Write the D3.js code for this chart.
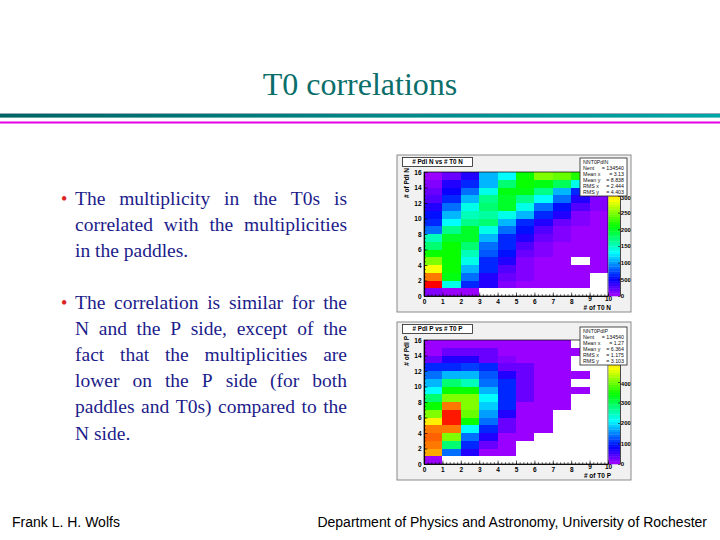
<!DOCTYPE html>
<html>
<head>
<meta charset="utf-8">
<script src="https://cdn.jsdelivr.net/npm/d3@7/dist/d3.min.js"></script>
<style>
  body { margin: 0; background: #fff; }
  svg { display: block; }
</style>
</head>
<body>
<div id="slide"></div>
<script>
// bins of the two histograms
var t0Bins = [0, 1, 2, 3, 4, 5, 6, 7, 8, 9];
var pdlBins = [0, 1, 2, 3, 4, 5, 6, 7, 8, 9, 10, 11, 12, 13, 14, 15];

// counts, rows from # of Pdl = 15 (top) down to 0, columns # of T0 = 0..9
var countsN = [
  [70, 200, 400, 1060, 1330, 2125, 2520, 2450, 2200, 80],
  [80, 420, 600, 1100, 1750, 2100, 2050, 1800, 1350, 90],
  [220, 450, 860, 1350, 2050, 2050, 1700, 1100, 600, 100],
  [250, 600, 1050, 1650, 2000, 1700, 1300, 850, 400, 100],
  [400, 850, 1350, 1750, 1950, 1350, 850, 550, 250, 80],
  [550, 1100, 1550, 1600, 1400, 1050, 600, 380, 120, 70],
  [600, 1300, 1700, 1750, 1100, 650, 400, 150, 90, 60],
  [850, 1700, 1950, 1400, 850, 550, 250, 120, 70, 50],
  [1500, 2000, 2000, 1100, 650, 400, 150, 90, 60, 40],
  [1750, 2100, 1750, 850, 600, 280, 120, 70, 50, 30],
  [2100, 2150, 1550, 800, 550, 180, 90, 60, 40, 25],
  [2500, 2150, 1350, 600, 400, 130, 70, 40, 0, 20],
  [2900, 2100, 1050, 600, 280, 100, 60, 40, 25, 15],
  [3300, 2050, 850, 420, 150, 80, 50, 30, 20, 0],
  [3650, 1350, 600, 380, 120, 70, 40, 25, 15, 0],
  [80, 60, 40, 0, 0, 0, 0, 0, 0, 0]
];
var countsP = [
  [110, 110, 120, 110, 100, 90, 80, 70, 0, 0],
  [120, 320, 330, 300, 120, 100, 80, 60, 50, 0],
  [320, 650, 650, 330, 130, 100, 80, 60, 0, 0],
  [970, 970, 1100, 970, 340, 300, 90, 70, 0, 0],
  [1400, 1730, 1750, 1300, 650, 320, 100, 70, 50, 0],
  [1730, 2810, 2480, 1400, 970, 330, 110, 80, 0, 0],
  [2160, 3460, 3460, 1730, 970, 330, 110, 80, 50, 0],
  [2810, 4100, 4100, 2160, 970, 300, 110, 70, 0, 0],
  [3460, 5400, 4100, 1900, 970, 120, 100, 60, 0, 0],
  [4100, 5880, 3890, 1600, 650, 110, 90, 0, 0, 0],
  [4750, 5880, 3460, 1400, 320, 110, 80, 0, 0, 0],
  [5400, 5400, 2160, 970, 320, 100, 60, 0, 0, 0],
  [5500, 4100, 1400, 650, 110, 90, 0, 0, 0, 0],
  [5400, 2900, 970, 320, 100, 0, 0, 0, 0, 0],
  [5100, 1400, 650, 120, 90, 0, 0, 0, 0, 0],
  [110, 0, 0, 0, 0, 0, 0, 0, 0, 0]
];

var zMaxN = 3720;
var zMaxP = 6050;
// labels of the palette axes that are not hidden under the stats boxes
var zTicksN = [0, 500, 1000, 1500, 2000, 2500, 3000];
var zTicksP = [0, 1000, 2000, 3000, 4000];
var xTicks = [0, 1, 2, 3, 4, 5, 6, 7, 8, 9, 10];
var yTicks = [0, 2, 4, 6, 8, 10, 12, 14, 16];

var statsN = [["Nent", "134540"], ["Mean x", "3.13"], ["Mean y", "8.838"], ["RMS x", "2.444"], ["RMS y", "4.403"]];
var statsP = [["Nent", "134540"], ["Mean x", "1.27"], ["Mean y", "6.364"], ["RMS x", "1.175"], ["RMS y", "3.103"]];

var para1 = ["The multiplicity in the T0s is", "correlated with the multiplicities", "in the paddles."];
var para2 = ["The correlation is similar for the", "N and the P side, except of the",
  "fact that the multiplicities are", "lower on the P side (for both",
  "paddles and T0s) compared to the", "N side."];

var svg = d3.select("#slide").append("svg")
    .attr("width", 720)
    .attr("height", 540);

var defs = svg.append("defs");
svg.append("rect").attr("width", 720).attr("height", 540).attr("fill", "#fff");

// title + rules
svg.append("text")
    .attr("x", 360).attr("y", 95)
    .attr("text-anchor", "middle")
    .style("font-family", "'Liberation Serif', 'Times New Roman', serif")
    .style("font-size", "32px")
    .attr("fill", "#0a6e6a")
    .text("T0 correlations");

var grad = defs.append("linearGradient").attr("id", "teal");
grad.append("stop").attr("offset", "0%").attr("stop-color", "#006464");
grad.append("stop").attr("offset", "100%").attr("stop-color", "#00a6a6");
svg.append("rect").attr("x", 0).attr("y", 113).attr("width", 720).attr("height", 1).attr("fill", "#9ab");
svg.append("rect").attr("x", 0).attr("y", 114).attr("width", 720).attr("height", 3.6).attr("fill", "url(#teal)");
svg.append("rect").attr("x", 0).attr("y", 121.5).attr("width", 720).attr("height", 2).attr("fill", "#e600e6");

// bullet text, justified by spreading the word gaps
function drawPara(lines, y0) {
  var left = 75, right = 347, step = 26.1;
  svg.append("text")
      .attr("x", 61).attr("y", y0)
      .attr("fill", "#e02020")
      .style("font-family", "'Liberation Serif', serif")
      .style("font-size", "18px")
      .text("\u2022");
  lines.forEach(function(line, i) {
    var y = y0 + i * step;
    var words = line.split(" ");
    var g = svg.append("g");
    var nodes = words.map(function(w) {
      return g.append("text")
          .attr("y", y)
          .attr("fill", "#1c1c8a")
          .style("font-family", "'Liberation Serif', 'Times New Roman', serif")
          .style("font-size", "19.5px")
          .text(w);
    });
    var widths = nodes.map(function(n) { return n.node().getComputedTextLength(); });
    var total = d3.sum(widths);
    var last = i == lines.length - 1;
    var gap = last ? 19.5 * 0.25 : (right - left - total) / (words.length - 1);
    var xx = left;
    nodes.forEach(function(n, k) {
      n.attr("x", xx);
      xx += widths[k] + gap;
    });
  });
}
drawPara(para1, 205);
drawPara(para2, 309);

// footer
svg.append("text").attr("x", 12).attr("y", 527)
    .style("font-family", "'Liberation Sans', Arial, sans-serif").style("font-size", "14px")
    .text("Frank L. H. Wolfs");
svg.append("text").attr("x", 707).attr("y", 527).attr("text-anchor", "end")
    .style("font-family", "'Liberation Sans', Arial, sans-serif").style("font-size", "14px")
    .text("Department of Physics and Astronomy, University of Rochester");

// ROOT style 2D histogram pad
function drawHist(cfg) {
  var pad = svg.append("g");
  var clipId = "clip" + cfg.id;
  defs.append("clipPath").attr("id", clipId)
    .append("rect").attr("x", cfg.px).attr("y", cfg.py).attr("width", cfg.pw).attr("height", cfg.ph);
  pad.attr("clip-path", "url(#" + clipId + ")");

  pad.append("rect")
      .attr("x", cfg.px).attr("y", cfg.py).attr("width", cfg.pw).attr("height", cfg.ph)
      .attr("fill", "#f1f1f1");

  var fx = 424, fw = 184, fy = cfg.fy, fh = 124;
  var x = d3.scaleLinear().domain([0, 10]).range([fx, fx + fw]);
  var y = d3.scaleLinear().domain([0, 16]).range([fy + fh, fy]);
  var z = d3.scaleLinear().domain([0, cfg.zMax]).range([fy + fh, fy]);

  function colour(v) {
    var lvl = Math.min(Math.floor(v / cfg.zMax * 50), 49);
    return d3.hsl(276 - lvl * 276 / 49, 1, 0.5).toString();
  }

  pad.append("rect").attr("x", fx).attr("y", fy).attr("width", fw).attr("height", fh).attr("fill", "#fff");

  var cells = [];
  cfg.counts.forEach(function(row, r) {
    row.forEach(function(v, c) {
      if (v > 0) cells.push({ t0: t0Bins[c], pdl: pdlBins[pdlBins.length - 1 - r], v: v });
    });
  });

  pad.selectAll("rect.cell")
    .data(cells)
    .enter()
    .append("rect")
      .attr("class", "cell")
      .attr("x", function(d) { return x(d.t0); })
      .attr("y", function(d) { return y(d.pdl + 1); })
      .attr("width", function(d) { return x(d.t0 + 1) - x(d.t0); })
      .attr("height", function(d) { return y(d.pdl) - y(d.pdl + 1); })
      .attr("fill", function(d) { return colour(d.v); })
      .attr("shape-rendering", "crispEdges");

  pad.append("rect").attr("x", fx).attr("y", fy).attr("width", fw).attr("height", fh)
      .attr("fill", "none").attr("stroke", "#000").attr("stroke-width", 0.7);

  // palette
  var bands = d3.range(50);
  pad.selectAll("rect.band")
    .data(bands)
    .enter()
    .append("rect")
      .attr("class", "band")
      .attr("x", fx + fw + 0.5)
      .attr("y", function(b) { return z((b + 1) * cfg.zMax / 50); })
      .attr("width", 11.5)
      .attr("height", function(b) { return z(b * cfg.zMax / 50) - z((b + 1) * cfg.zMax / 50) + 0.3; })
      .attr("fill", function(b) { return colour((b + 0.5) * cfg.zMax / 50); });

  var axFont = function(size) {
    return function(g) {
      g.selectAll("text")
          .style("font-family", "'Liberation Sans', Arial, sans-serif")
          .style("font-size", size + "px")
          .style("font-weight", "bold")
          .attr("fill", "#000");
      g.selectAll("line").attr("stroke", "#000").attr("stroke-width", 0.6);
      g.select(".domain").attr("stroke", "#000").attr("stroke-width", 0.7);
    };
  };

  var xAxisG = pad.append("g")
      .attr("transform", "translate(0," + (fy + fh) + ")")
      .call(d3.axisBottom(x).tickValues(xTicks).tickFormat(d3.format("d")).tickSize(-3.5).tickSizeOuter(0).tickPadding(3))
      .call(axFont(6.5));
  // the last two labels sit a little higher, as on the slide
  xAxisG.selectAll(".tick").filter(function(d) { return d >= 9; }).select("text").attr("y", 0.5);
  pad.append("g")
      .attr("transform", "translate(0," + (fy + fh) + ")")
      .call(d3.axisBottom(x).ticks(50).tickFormat("").tickSize(-1.8).tickSizeOuter(0))
      .call(axFont(6.5));
  pad.append("g")
      .attr("transform", "translate(" + fx + ",0)")
      .call(d3.axisLeft(y).tickValues(yTicks).tickFormat(d3.format("d")).tickSize(-3.5).tickSizeOuter(0).tickPadding(2.5))
      .call(axFont(6.5));
  pad.append("g")
      .attr("transform", "translate(" + fx + ",0)")
      .call(d3.axisLeft(y).ticks(32).tickFormat("").tickSize(-1.8).tickSizeOuter(0))
      .call(axFont(6.5));
  var zAxisG = pad.append("g")
      .attr("transform", "translate(" + (fx + fw + 12) + ",0)")
      .call(d3.axisRight(z).tickValues(cfg.zTicks).tickFormat(d3.format("d")).tickSize(-2).tickSizeOuter(0).tickPadding(0.8))
      .call(axFont(6));
  // the top label peeks out just under the stats box
  var topZ = cfg.zTicks[cfg.zTicks.length - 1];
  zAxisG.selectAll(".tick").filter(function(d) { return d == topZ; }).select("text").attr("dy", "0.62em");

  pad.append("text")
      .attr("transform", "translate(409," + (fy - 4) + ") rotate(-90)")
      .attr("text-anchor", "end")
      .style("font-family", "'Liberation Sans', Arial, sans-serif")
      .style("font-size", "6.5px").style("font-weight", "bold")
      .text(cfg.yTitle);
  pad.append("text")
      .attr("x", fx + fw + 3).attr("y", fy + fh + 13.5)
      .attr("text-anchor", "end")
      .style("font-family", "'Liberation Sans', Arial, sans-serif")
      .style("font-size", "6.5px").style("font-weight", "bold")
      .text(cfg.xTitle);

  // title box
  pad.append("rect")
      .attr("x", cfg.px + 5.5).attr("y", cfg.py + 2.5).attr("width", 70).attr("height", 9)
      .attr("fill", "#fff").attr("stroke", "#222").attr("stroke-width", 0.8);
  pad.append("text")
      .attr("x", cfg.px + 40.5).attr("y", cfg.py + 9.3)
      .attr("text-anchor", "middle")
      .style("font-family", "'Liberation Sans', Arial, sans-serif")
      .style("font-size", "6.3px").style("font-weight", "bold")
      .text(cfg.title);

  // stats box
  var sx = 580, sy = cfg.py + cfg.sOff, sw = 47, sh = 38;
  pad.append("rect")
      .attr("x", sx).attr("y", sy).attr("width", sw).attr("height", sh)
      .attr("fill", "#fff").attr("stroke", "#222").attr("stroke-width", 0.8);
  var st = pad.append("g")
      .style("font-family", "'Liberation Sans', Arial, sans-serif")
      .style("font-size", "5.3px")
      .attr("fill", "#111");
  st.append("text").attr("x", sx + 3).attr("y", sy + 5.6).text(cfg.statName);
  cfg.stats.forEach(function(s, i) {
    var yy = sy + 5.6 + (i + 1) * 6.05;
    st.append("text").attr("x", sx + 3).attr("y", yy).text(s[0]);
    st.append("text").attr("x", sx + sw - 3).attr("y", yy).attr("text-anchor", "end").text("=  " + s[1]);
  });

  // pad border
  svg.append("rect")
      .attr("x", cfg.px).attr("y", cfg.py).attr("width", cfg.pw).attr("height", cfg.ph)
      .attr("fill", "none").attr("stroke", "#8a8a8a").attr("stroke-width", 1);
}

drawHist({ id: "N", px: 397, py: 155, pw: 234, ph: 157, fy: 172, counts: countsN, zMax: zMaxN, zTicks: zTicksN,
  title: "# Pdl N vs # T0 N", xTitle: "# of T0 N", yTitle: "# of Pdl N", statName: "NNT0PdlN", stats: statsN, sOff: 3 });
drawHist({ id: "P", px: 397, py: 322, pw: 234, ph: 158, fy: 340, counts: countsP, zMax: zMaxP, zTicks: zTicksP,
  title: "# Pdl P vs # T0 P", xTitle: "# of T0 P", yTitle: "# of Pdl P", statName: "NNT0PdlP", stats: statsP, sOff: 5 });
</script>
</body>
</html>
